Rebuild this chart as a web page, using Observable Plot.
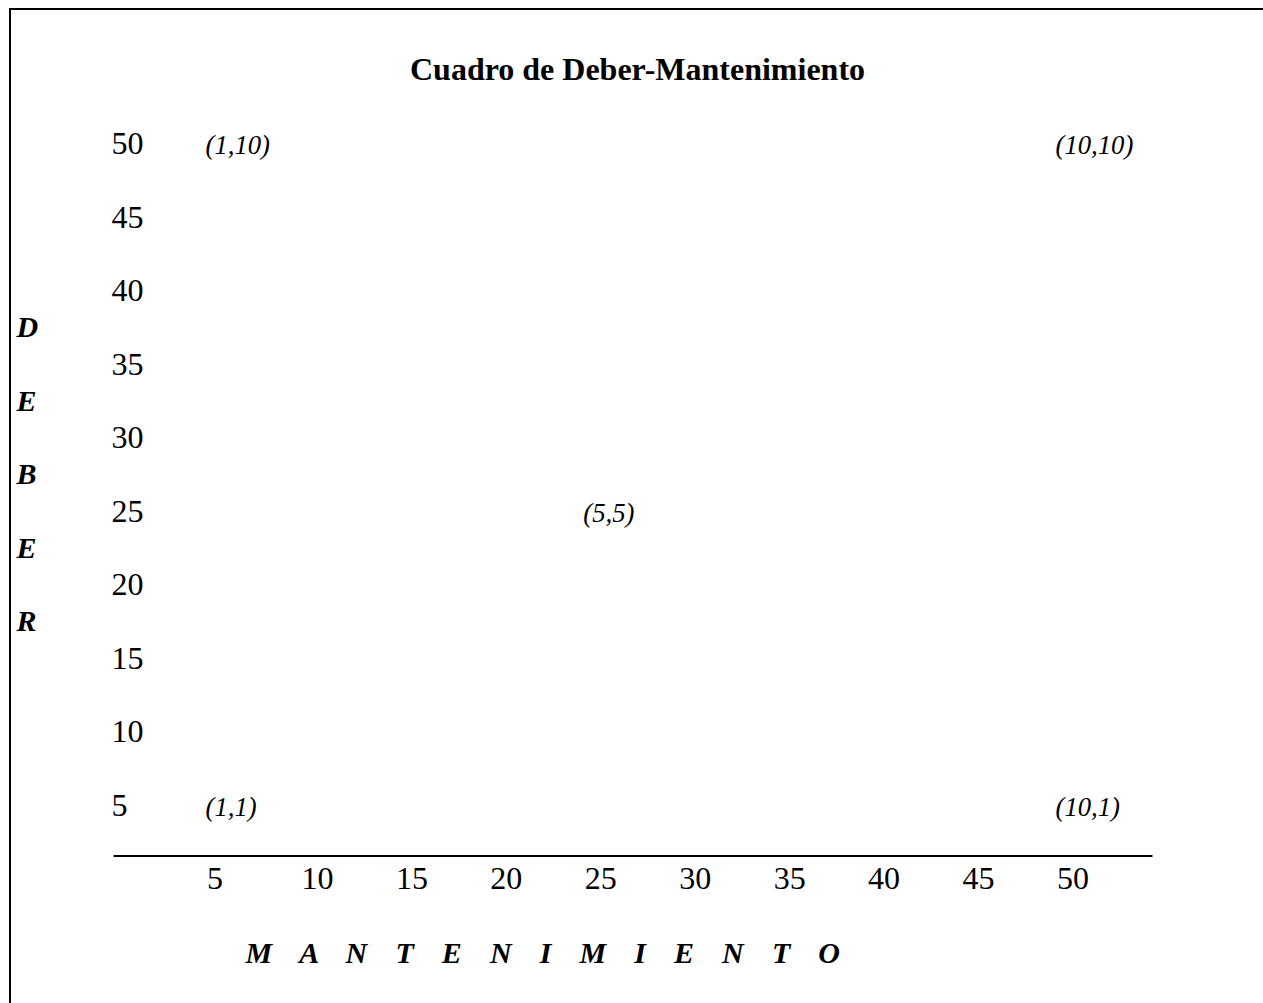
<!DOCTYPE html>
<html><head><meta charset="utf-8">
<script src="https://cdn.jsdelivr.net/npm/d3@7"></script>
<script src="https://cdn.jsdelivr.net/npm/@observablehq/plot@0.6"></script>
<style>
html,body{margin:0;padding:0;background:#fff;}
#wrap{position:relative;width:1263px;height:1003px;overflow:hidden;}
#border{position:absolute;left:9px;top:8px;right:-20px;bottom:-20px;border-left:2.6px solid #000;border-top:2.6px solid #000;pointer-events:none;}
</style></head><body>
<div id="wrap"><div id="chart"></div><div id="border"></div></div>
<script>
const title = "Cuadro de Deber-Mantenimiento";
const xTicks = [5, 10, 15, 20, 25, 30, 35, 40, 45, 50];
const yTicks = [50, 45, 40, 35, 30, 25, 20, 15, 10, 5];
const pointX = [5, 50, 25, 5, 50];
const pointY = [50, 50, 25, 5, 5];
const pointLabels = ["(1,10)", "(10,10)", "(5,5)", "(1,1)", "(10,1)"];
const xLabel = "M A N T E N I M I E N T O";
const yLabel = ["D", "E", "B", "E", "R"];
const axisLine = {y: 5, x1: 0, x2: 55};

const points = pointX.map((x, i) => ({x, y: pointY[i], label: pointLabels[i]}));
const serif = "Liberation Serif, Times New Roman, serif";

const chart = Plot.plot({
  width: 1263,
  height: 1003,
  marginLeft: 208,
  marginRight: 205,
  marginTop: 153.5,
  marginBottom: 188,
  x: {domain: [5, 50], axis: null},
  y: {domain: [5, 50], axis: null},
  style: {fontFamily: serif, background: "transparent", color: "#000"},
  marks: [
    // title
    Plot.text([title], {frameAnchor: "top", lineAnchor: "bottom", dx: 4, dy: -74.5,
      fontSize: 32, fontWeight: "bold", fontFamily: serif, fill: "#000"}),
    // y tick labels
    Plot.text(yTicks, {y: d => d, text: d => String(d), frameAnchor: "left", textAnchor: "start",
      lineAnchor: "bottom", dx: -97, fontSize: 32, fontFamily: serif, fill: "#000"}),
    // x tick labels
    Plot.text(xTicks, {x: d => d, text: d => String(d), frameAnchor: "bottom", textAnchor: "start",
      lineAnchor: "bottom", dx: -1.5, dy: 73.5, fontSize: 32, fontFamily: serif, fill: "#000"}),
    // horizontal axis line
    Plot.ruleY([axisLine], {y: "y", x1: "x1", x2: "x2", dy: 40.5, stroke: "#000", strokeWidth: 2.2}),
    // point labels
    Plot.text(points, {x: "x", y: "y", text: "label", textAnchor: "start", lineAnchor: "bottom",
      dx: -3, fontSize: 26.7, fontStyle: "italic", fontFamily: serif, fill: "#000"}),
    // y axis label (stacked letters)
    Plot.text([yLabel.join("\n")], {frameAnchor: "left", textAnchor: "start", lineAnchor: "middle",
      lineHeight: 2.45, dx: -192, dy: -24, fontSize: 30, fontWeight: "bold", fontStyle: "italic",
      fontFamily: serif, fill: "#000"}),
    // x axis label
    Plot.text([xLabel], {frameAnchor: "bottom-left", textAnchor: "start", lineAnchor: "bottom",
      dx: 37, dy: 147, fontSize: 30, fontWeight: "bold", fontStyle: "italic", fontFamily: serif,
      fill: "#000"})
  ]
});
d3.select(chart).selectAll("text").filter(function() { return this.textContent === xLabel; })
  .style("letter-spacing", "10.3px");
document.getElementById("chart").appendChild(chart);
</script>
</body></html>
